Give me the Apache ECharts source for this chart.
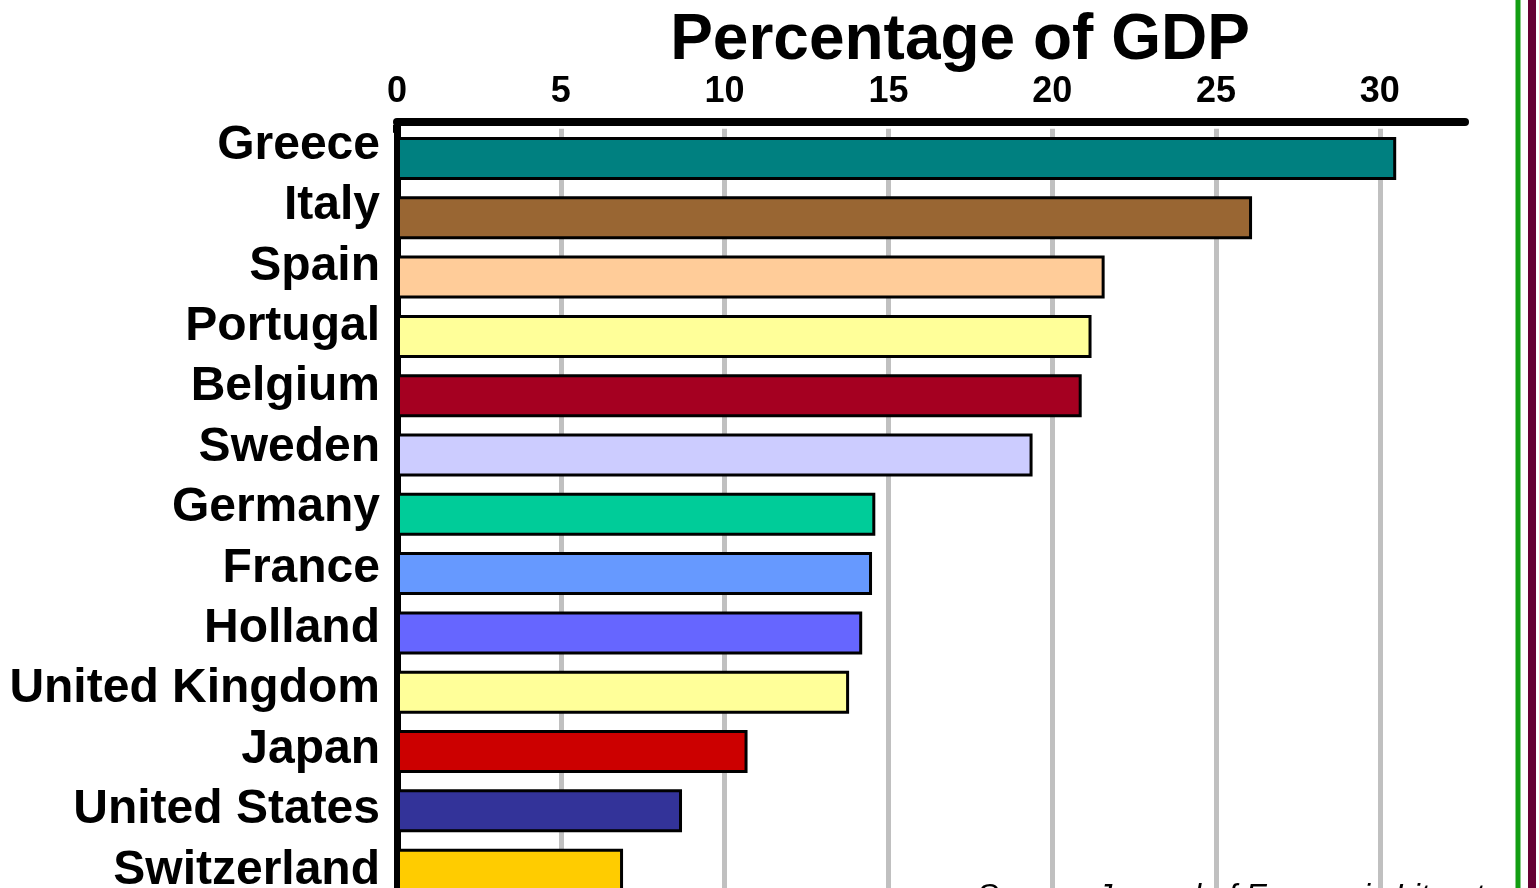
<!DOCTYPE html>
<html>
<head>
<meta charset="utf-8">
<script src="https://cdn.jsdelivr.net/npm/echarts@6/dist/echarts.min.js"></script>
<style>
html,body{margin:0;padding:0;background:#ffffff;}
#chart{width:1539px;height:888px;}
</style>
</head>
<body>
<div id="chart"></div>
<script>
const countries = ['Greece','Italy','Spain','Portugal','Belgium','Sweden','Germany','France','Holland','United Kingdom','Japan','United States','Switzerland'];
const values = [30.5, 26.1, 21.6, 21.2, 20.9, 19.4, 14.6, 14.5, 14.2, 13.8, 10.7, 8.7, 6.9];
const barColors = ['#008080','#996633','#FFCC99','#FFFF99','#A50021','#CCCCFF','#00CC99','#6699FF','#6666FF','#FFFF99','#CC0000','#333399','#FFCC00'];
const xTicks = [0, 5, 10, 15, 20, 25, 30];
const titleText = 'Percentage of GDP';
const sourceText = 'Source: Journal of Economic Literature';

const FONT = '"Liberation Sans", Arial, Helvetica, sans-serif';
const chart = echarts.init(document.getElementById('chart'), null, {renderer: 'canvas'});

chart.setOption({
  animation: false,
  backgroundColor: '#ffffff',
  title: [
    {
      text: titleText,
      left: 955,
      textAlign: 'center',
      top: 4,
      textStyle: {fontFamily: FONT, fontSize: 64, fontWeight: 'bold', color: '#000'}
    },
    {
      text: sourceText,
      left: 972,
      top: 876,
      textStyle: {fontFamily: FONT, fontSize: 32, fontStyle: 'italic', fontWeight: 'normal', color: '#000',
        width: 525, overflow: 'truncate', ellipsis: ''}
    }
  ],
  grid: [
    {left: 397, right: 74, top: 128.8, height: 771, containLabel: false, outerBoundsMode: 'none'},
    {left: 397, right: 74, top: 115.5, height: 785, containLabel: false, outerBoundsMode: 'none'}
  ],
  xAxis: [
    {
      type: 'value',
      gridIndex: 0,
      position: 'top',
      min: 0,
      max: 32.6,
      interval: 5,
      offset: 6.8,
      axisLine: {show: true, lineStyle: {color: '#000', width: 8}},
      axisTick: {show: false},
      axisLabel: {
        margin: 12,
        fontFamily: FONT, fontSize: 36, fontWeight: 'bold', color: '#000',
        showMaxLabel: false,
        formatter: function (v) { return xTicks.indexOf(v) >= 0 ? String(v) : ''; }
      },
      splitLine: {show: true, showMinLine: false, showMaxLine: false, lineStyle: {color: '#c0c0c0', width: 5}}
    },
    {
      type: 'value',
      gridIndex: 1,
      show: false,
      min: 0,
      max: 32.6
    }
  ],
  yAxis: [
    {
      type: 'category',
      gridIndex: 0,
      inverse: true,
      data: countries,
      axisLine: {show: true, lineStyle: {color: '#000', width: 7}, symbol: ['rect', 'rect'], symbolSize: [8, 8]},
      axisTick: {show: false},
      axisLabel: {show: false},
      splitLine: {show: false}
    },
    {
      type: 'category',
      gridIndex: 1,
      inverse: true,
      data: countries,
      axisLine: {show: false},
      axisTick: {show: false},
      axisLabel: {
        interval: 0,
        margin: 17,
        fontFamily: FONT, fontSize: 48, fontWeight: 'bold', color: '#000'
      },
      splitLine: {show: false}
    }
  ],
  series: [{
    type: 'bar',
    xAxisIndex: 0,
    yAxisIndex: 0,
    barWidth: 43,
    data: values.map(function (v, i) { return {value: v, itemStyle: {color: barColors[i]}}; }),
    itemStyle: {borderColor: '#000', borderWidth: 3}
  }],
  graphic: [
    {type: 'line', z: 100, shape: {x1: 1518, y1: 0, x2: 1518, y2: 888}, style: {stroke: '#129E12', lineWidth: 5}},
    {type: 'line', z: 100, shape: {x1: 1532, y1: 0, x2: 1532, y2: 888}, style: {stroke: '#660033', lineWidth: 8}}
  ]
});
</script>
</body>
</html>
